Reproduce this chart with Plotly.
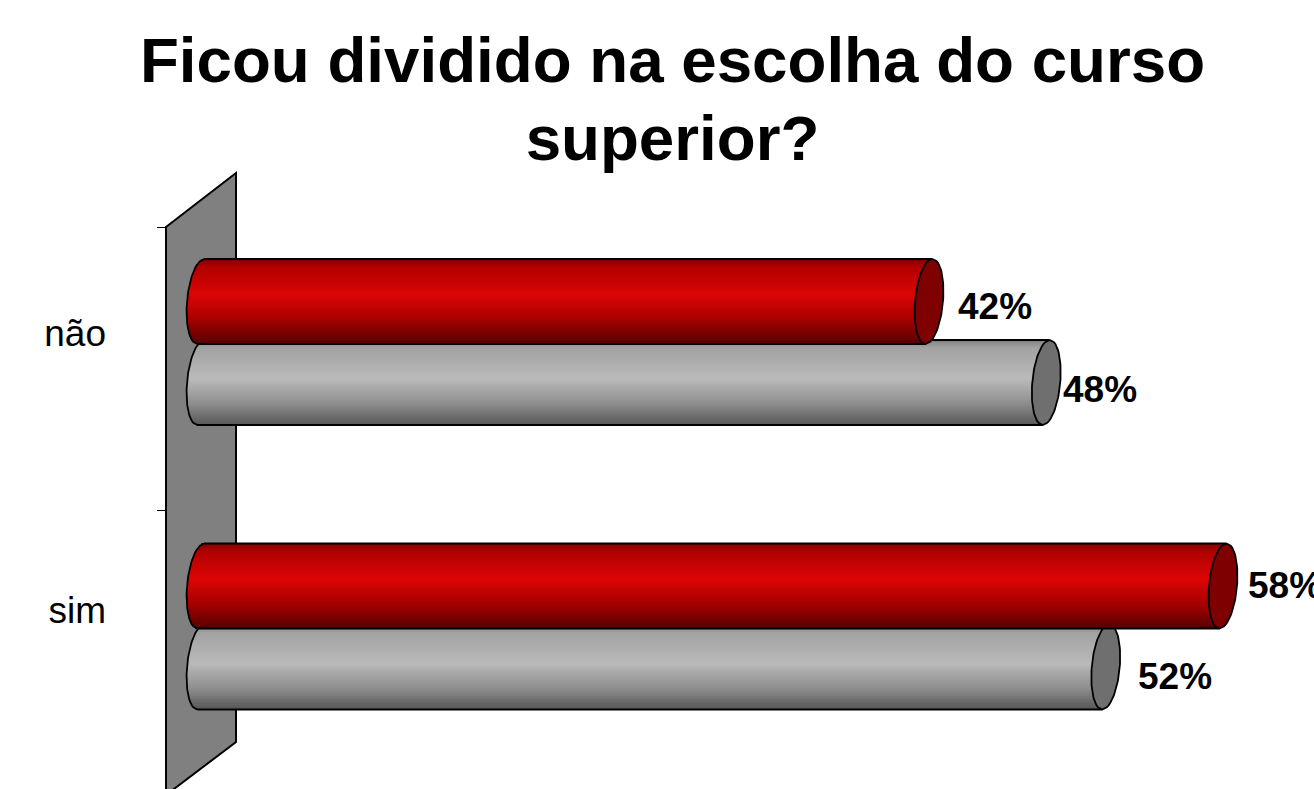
import plotly.graph_objects as go
import math

# ---- data ----
categories = ["não", "sim"]
red_values = [41.6, 58.4]
gray_values = [48.3, 51.7]
red_labels = ["42%", "58%"]
gray_labels = ["48%", "52%"]
category_pos = [1, 0]
label_pos = [1.032, 0.058]
tick_pos = [1.404, 0.408]

# ---- style ----
FONT = "Liberation Sans"
W, H = 1314, 789
L, T = 166, 173
PX_PER_UNIT_X = 17.5
PX_PER_UNIT_Y = 284.5
X0_PX = 201
Y0_PX = 626.5
X_RANGE = [(L - X0_PX) / PX_PER_UNIT_X, (W - X0_PX) / PX_PER_UNIT_X]
Y_RANGE = [(Y0_PX - H) / PX_PER_UNIT_Y, (Y0_PX - T) / PX_PER_UNIT_Y]
HALF_H = 42.5 / PX_PER_UNIT_Y
OFFSET = 40.5 / PX_PER_UNIT_Y
CAP_A = 14 / PX_PER_UNIT_X
CAP_S = 3.5 / PX_PER_UNIT_X
N = 44

red_stops = [(0, "#7e0000"), (0.1, "#b00000"), (0.42, "#dc0505"), (0.7, "#aa0000"), (1, "#580000")]
gray_stops = [(0, "#7e7e7e"), (0.1, "#a2a2a2"), (0.46, "#bababa"), (0.75, "#8e8e8e"), (1, "#585858")]


def color_at(stops, f):
    for (a, ca), (b, cb) in zip(stops, stops[1:]):
        if a <= f <= b:
            k = (f - a) / (b - a)
            rgb = [round(int(ca[i:i + 2], 16) * (1 - k) + int(cb[i:i + 2], 16) * k) for i in (1, 3, 5)]
            return "rgb(%d,%d,%d)" % tuple(rgb)
    return stops[-1][1]


def arc(cx, cy, side, n=40):
    """Half-ellipse of a cylinder end, from top to bottom; side=+1 right, -1 left."""
    xs, ys = [], []
    for i in range(n + 1):
        t = 1 - 2 * i / n
        xs.append(cx + side * CAP_A * math.sqrt(max(0, 1 - t * t)) + CAP_S * t)
        ys.append(cy + HALF_H * t)
    return xs, ys


def add_series(fig, values, sign, stops, cap_color, yaxis):
    centers = [p + sign * OFFSET for p in category_pos]
    h = 2 * HALF_H / N
    for i in range(N):
        f = (i + 0.5) / N
        t = 1 - 2 * f
        edge = -CAP_A * math.sqrt(1 - t * t) + CAP_S * t
        bases = [edge for _ in values]
        lengths = [v + CAP_S * t - edge for v in values]
        fig.add_trace(go.Bar(
            orientation="h", y=[c + HALF_H * t for c in centers], x=lengths, base=bases,
            width=h * 1.4, marker=dict(color=color_at(stops, f), line=dict(width=0)),
            yaxis=yaxis, xaxis="x", showlegend=False, hoverinfo="skip"))
    # body outline
    ox, oy = [], []
    for v, c in zip(values, centers):
        ax, ay = arc(0, c, -1)
        ox += [v + CAP_S] + ax + [v - CAP_S, None]
        oy += [c + HALF_H] + ay + [c - HALF_H, None]
    fig.add_trace(go.Scatter(x=ox, y=oy, mode="lines", line=dict(color="#000000", width=1.8),
                             yaxis=yaxis, xaxis="x", showlegend=False, hoverinfo="skip"))
    # end caps
    cx_all, cy_all = [], []
    for v, c in zip(values, centers):
        rx, ry = arc(v, c, 1)
        lx, ly = arc(v, c, -1)
        cx_all += rx + lx[::-1] + [None]
        cy_all += ry + ly[::-1] + [None]
    fig.add_trace(go.Scatter(x=cx_all, y=cy_all, mode="lines", fill="toself", fillcolor=cap_color,
                             line=dict(color="#000000", width=1.8),
                             yaxis=yaxis, xaxis="x", showlegend=False, hoverinfo="skip"))


fig = go.Figure()
add_series(fig, gray_values, -1, gray_stops, "#6f6f6f", "y")
add_series(fig, red_values, +1, red_stops, "#7e0000", "y2")


def px_x(p):
    return (p - L) / (W - L)


def px_y(p):
    return (H - p) / (H - T)


wall = [(166, 227), (236, 173), (236, 742), (166, 795)]
wall_path = "M " + " L ".join(f"{px_x(a):.5f},{px_y(b):.5f}" for a, b in wall) + " Z"
fig.add_shape(type="path", path=wall_path, xref="paper", yref="paper", layer="below",
              fillcolor="#808080", line=dict(color="#000000", width=2))

# data labels (x, y nudges in pixels)
label_shift = {"42%": (27, -4.5), "48%": (15, -7), "58%": (23, 1), "52%": (30, -9.5)}
for values, labels, sign in ((red_values, red_labels, 1), (gray_values, gray_labels, -1)):
    for v, p, lab in zip(values, category_pos, labels):
        dx, dy = label_shift[lab]
        fig.add_annotation(x=v, y=p + sign * OFFSET, xref="x", yref="y", text=f"<b>{lab}</b>",
                           showarrow=False, xanchor="left", yanchor="middle", xshift=dx, yshift=dy,
                           font=dict(family=FONT, size=37, color="#000000"))

fig.update_layout(
    width=W, height=H, margin=dict(l=L, r=0, t=T, b=0),
    paper_bgcolor="#ffffff", plot_bgcolor="rgba(0,0,0,0)",
    barmode="overlay", bargap=0, showlegend=False,
    title=dict(text='<span style="font-size:63.7px"><b>Ficou dividido na escolha do curso<br>superior?</b></span>',
               x=672.5 / W, xanchor="center", y=1 - 81.5 / H, yanchor="middle",
               font=dict(family=FONT, size=60, color="#000000")),
    xaxis=dict(range=X_RANGE, visible=False, fixedrange=True),
    yaxis=dict(range=Y_RANGE, tickmode="array", tickvals=label_pos, ticktext=categories,
               ticks="", ticklabelstandoff=59, showgrid=False, zeroline=False, showline=False,
               tickfont=dict(family=FONT, size=37, color="#000000"), fixedrange=True,
               minor=dict(tickmode="array", tickvals=tick_pos, ticks="outside", ticklen=8,
                          tickwidth=1.2, tickcolor="#000000", showgrid=False)),
    yaxis2=dict(range=Y_RANGE, overlaying="y", visible=False, fixedrange=True),
)

fig.write_html("out.html", config={"displayModeBar": False},
               post_script="document.body.style.margin='0';document.body.style.overflow='hidden';")
